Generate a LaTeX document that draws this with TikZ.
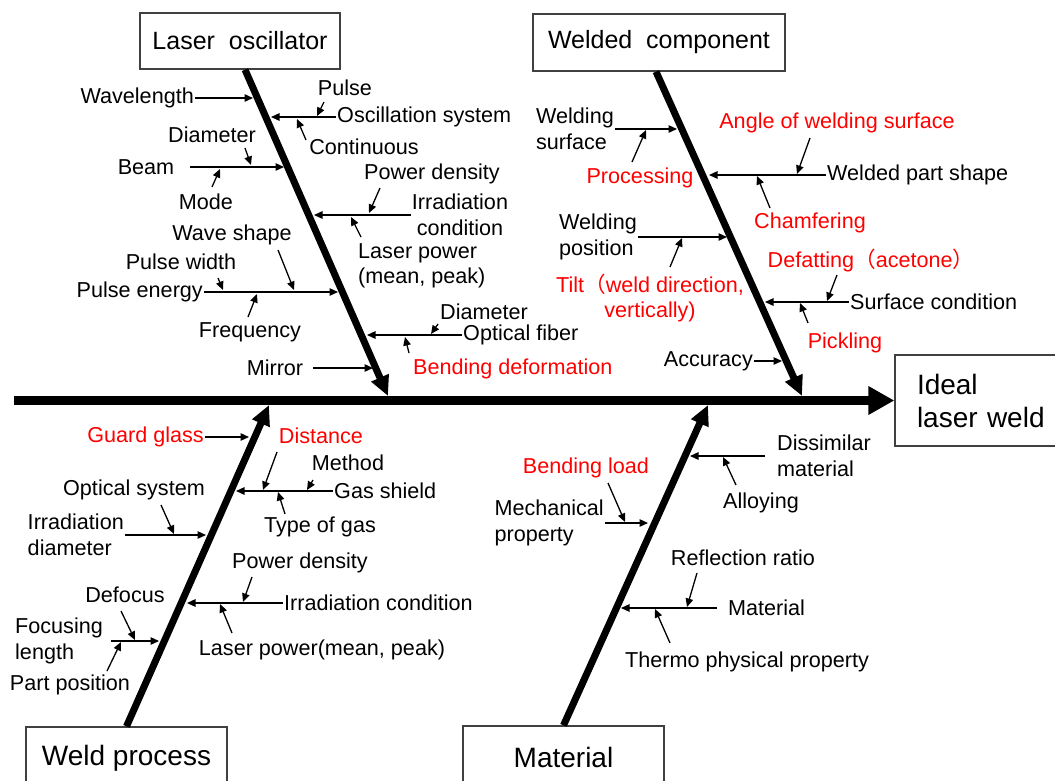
\documentclass[tikz,border=0pt]{standalone}
\usepackage{fontspec}
\setmainfont{Liberation Sans}
\newfontfamily\cjk{Noto Sans CJK SC}
\usetikzlibrary{arrows.meta}

\begin{document}
\begin{tikzpicture}[
    x=1pt, y=-1pt,
    lbl/.style={
        inner sep=1pt,
        font=\fontsize{21.6}{25.5}\selectfont
    },
    hot/.style={lbl, text=hired},
    cause/.style={
        rectangle,
        draw=boxgray,
        line width=1.3pt,
        inner sep=0pt,
        font=\fontsize{25}{29}\selectfont
    },
    spine/.style={line width=9pt, -{Triangle[length=26pt, width=27pt]}},
    bone/.style={line width=7pt, -{Triangle[length=20pt, width=18pt]}},
    sub/.style={line width=1.3pt, -{Triangle[length=8.5pt, width=7.5pt]}}
]

% Colors
\definecolor{hired}{RGB}{255,0,0}
\definecolor{boxgray}{RGB}{64,64,64}

\useasboundingbox (0,0) rectangle (1055,780);

% Effect and causes
\node[cause, minimum width=176pt, minimum height=91pt, text width=132pt,
      align=left, font=\fontsize{28}{33}\selectfont] (goal) at (983,400.5) {Ideal\\laser weld};
\node[cause, minimum width=200pt, minimum height=56pt] (lo) at (240,41) {Laser\ \ oscillator};
\node[cause, minimum width=252pt, minimum height=57pt] (wc) at (659,42.5) {Welded\ \ component};
\node[cause, minimum width=201pt, minimum height=62pt,
      font=\fontsize{28}{33}\selectfont] (wp) at (126.5,758) {Weld process};
\node[cause, minimum width=201pt, minimum height=62pt,
      font=\fontsize{28}{33}\selectfont] (mat) at (563.5,757) {Material};

% Spine and bones
\coordinate (tail) at (14,400.5);
\coordinate (lo-tip) at (388,396);
\coordinate (wc-tip) at (802,396);
\coordinate (wp-tip) at (269,405);
\coordinate (mat-tip) at (708,405);

\draw[spine] (tail) -- (goal.west);
\draw[bone] ([xshift=5pt]lo.south) -- (lo-tip);
\draw[bone] ([xshift=-3pt]wc.south) -- (wc-tip);
\draw[bone] (wp.north) -- (wp-tip);
\draw[bone] (mat.north) -- (mat-tip);

% Laser oscillator
\node[lbl, anchor=east] (wl) at (195,98) {Wavelength};
\node[lbl, anchor=west] (osc) at (336,117) {Oscillation system};
\node[lbl] (pulse) at (345,88) {Pulse};
\node[lbl] (cont) at (364,147) {Continuous};
\node[lbl] (beam) at (146,167) {Beam};
\node[lbl] (dia1) at (212,135) {Diameter};
\node[lbl] (mode) at (206,202) {Mode};
\node[lbl, align=center] (irr1) at (460,215) {Irradiation\\condition};
\node[lbl] (pd1) at (432,174) {Power density};
\node[lbl, align=left, anchor=west] (lp1) at (357,266) {Laser power\\(mean, peak)};
\node[lbl, anchor=east] (pe) at (204,292) {Pulse energy};
\node[lbl] (pw) at (181,262) {Pulse width};
\node[lbl] (wave) at (232,235) {Wave shape};
\node[lbl] (freq) at (250,332) {Frequency};
\node[lbl, anchor=west] (fiber) at (462,335) {Optical fiber};
\node[lbl] (dia2) at (484,312) {Diameter};
\node[hot, anchor=west] (bend) at (412,369) {Bending deformation};
\node[lbl] (mirror) at (275,368) {Mirror};

\coordinate (lo1) at (253,98);
\coordinate (lo2) at (271,117);
\coordinate (lo3) at (284,167);
\coordinate (lo4) at (314,215);
\coordinate (lo5) at (338,292);
\coordinate (lo6) at (367,335);
\coordinate (lo7) at (373,368);

\coordinate (pulse-t) at (324,102);  \coordinate (pulse-h) at (317,116);
\coordinate (cont-t) at (306,140);   \coordinate (cont-h) at (297,119);
\coordinate (dia1-t) at (245,148);   \coordinate (dia1-h) at (251,165);
\coordinate (mode-t) at (212,187);   \coordinate (mode-h) at (220,169);
\coordinate (pd1-t) at (380,188);    \coordinate (pd1-h) at (369,213);
\coordinate (lp1-t) at (361,237);    \coordinate (lp1-h) at (351,217);
\coordinate (pw-t) at (218,278);     \coordinate (pw-h) at (223,290);
\coordinate (wave-t) at (278,250);   \coordinate (wave-h) at (294,290);
\coordinate (freq-t) at (248,317);   \coordinate (freq-h) at (257,294);
\coordinate (dia2-t) at (438,324);   \coordinate (dia2-h) at (431,334);
\coordinate (bend-t) at (409,353);   \coordinate (bend-h) at (405,337);

% Welded component
\node[lbl, align=left, anchor=east] (wsurf) at (615,129) {Welding\\surface};
\node[hot] (proc) at (640,178) {Processing};
\node[lbl, anchor=west] (wps) at (826,175) {Welded part shape};
\node[hot] (angle) at (837,123) {Angle of welding surface};
\node[hot] (cham) at (810,223) {Chamfering};
\node[lbl, align=left, anchor=east] (wpos) at (638,237) {Welding\\position};
\node[hot, align=center] (tilt) at (650,298) {Tilt{\cjk （}weld direction,\\vertically)};
\node[lbl, anchor=west] (surf) at (849,302) {Surface condition};
\node[hot] (defat) at (871,260) {Defatting{\cjk （}acetone{\cjk ）}};
\node[hot] (pick) at (845,343) {Pickling};
\node[lbl, anchor=east] (acc) at (754,361) {Accuracy};

\coordinate (wc1) at (677,129);
\coordinate (wc2) at (709,175);
\coordinate (wc3) at (727,237);
\coordinate (wc4) at (765,302);
\coordinate (wc5) at (782,361);

\coordinate (proc-t) at (632,162);   \coordinate (proc-h) at (646,130);
\coordinate (angle-t) at (810,138);  \coordinate (angle-h) at (797,174);
\coordinate (cham-t) at (770,208);   \coordinate (cham-h) at (757,176);
\coordinate (tilt-t) at (670,267);   \coordinate (tilt-h) at (682,238);
\coordinate (defat-t) at (837,275);  \coordinate (defat-h) at (827,301);
\coordinate (pick-t) at (808,323);   \coordinate (pick-h) at (800,303);

% Weld process
\node[hot, anchor=east] (guard) at (205,437) {Guard glass};
\node[lbl, anchor=west] (gas) at (333,491) {Gas shield};
\node[hot] (dist) at (321,436) {Distance};
\node[lbl] (meth) at (348,463) {Method};
\node[lbl] (tgas) at (320,527) {Type of gas};
\node[lbl, align=left, anchor=east] (ird) at (125,535) {Irradiation\\diameter};
\node[lbl] (optsys) at (134,490) {Optical system};
\node[lbl, anchor=west] (irr2) at (283,603) {Irradiation condition};
\node[lbl] (pd2) at (300,563) {Power density};
\node[lbl] (lp2) at (322,650) {Laser power(mean, peak)};
\node[lbl, align=left, anchor=west] (focus) at (14,641) {Focusing\\length};
\node[lbl] (defoc) at (125,595) {Defocus};
\node[lbl] (part) at (70,685) {Part position};

\coordinate (wp1) at (249,437);
\coordinate (wp2) at (236,491);
\coordinate (wp3) at (206,535);
\coordinate (wp4) at (187,603);
\coordinate (wp5) at (159,641);

\coordinate (dist-t) at (277,452);   \coordinate (dist-h) at (263,490);
\coordinate (meth-t) at (313,480);   \coordinate (meth-h) at (307,490);
\coordinate (tgas-t) at (285,514);   \coordinate (tgas-h) at (278,492);
\coordinate (optsys-t) at (161,505); \coordinate (optsys-h) at (174,534);
\coordinate (pd2-t) at (252,577);    \coordinate (pd2-h) at (243,602);
\coordinate (lp2-t) at (232,633);    \coordinate (lp2-h) at (220,604);
\coordinate (defoc-t) at (121,611);  \coordinate (defoc-h) at (135,640);
\coordinate (part-t) at (107,671);   \coordinate (part-h) at (121,642);

% Material
\node[lbl, align=left, anchor=west] (dissim) at (776,456) {Dissimilar\\material};
\node[lbl] (alloy) at (761,503) {Alloying};
\node[lbl, align=left, anchor=east] (mech) at (605,523) {Mechanical\\property};
\node[hot] (bload) at (586,468) {Bending load};
\node[lbl, anchor=west] (matl) at (727,608) {Material};
\node[lbl] (refl) at (743,558) {Reflection ratio};
\node[lbl] (thermo) at (747,662) {Thermo physical property};

\coordinate (mt1) at (690,456);
\coordinate (mt2) at (648,523);
\coordinate (mt3) at (621,608);

\coordinate (alloy-t) at (736,485);  \coordinate (alloy-h) at (723,457);
\coordinate (bload-t) at (608,483);  \coordinate (bload-h) at (625,522);
\coordinate (refl-t) at (697,573);   \coordinate (refl-h) at (687,607);
\coordinate (thermo-t) at (670,643); \coordinate (thermo-h) at (655,609);

% Arrows
\draw[sub] (wl.east) -- (lo1);
\draw[sub] (osc.west) -- (lo2);
\draw[sub, shorten <=15pt] (beam.east) -- (lo3);
\draw[sub] (irr1.west) -- (lo4);
\draw[sub] (pe.east) -- (lo5);
\draw[sub] (fiber.west) -- (lo6);
\draw[sub, shorten <=9pt] (mirror.east) -- (lo7);

\draw[sub] (wsurf.east) -- (wc1);
\draw[sub] (wps.west) -- (wc2);
\draw[sub] (wpos.east) -- (wc3);
\draw[sub] (surf.west) -- (wc4);
\draw[sub] (acc.east) -- (wc5);

\draw[sub] (guard.east) -- (wp1);
\draw[sub] (gas.west) -- (wp2);
\draw[sub] (ird.east) -- (wp3);
\draw[sub] (irr2.west) -- (wp4);
\draw[sub, shorten <=7pt] (focus.east) -- (wp5);

\draw[sub, shorten <=11pt] (dissim.west) -- (mt1);
\draw[sub] (mech.east) -- (mt2);
\draw[sub, shorten <=10pt] (matl.west) -- (mt3);

\foreach \n in {pulse, cont, dia1, mode, pd1, lp1, pw, wave, freq, dia2, bend,
                proc, angle, cham, tilt, defat, pick,
                dist, meth, tgas, optsys, pd2, lp2, defoc, part,
                alloy, bload, refl, thermo}
    \draw[sub] (\n-t) -- (\n-h);

\end{tikzpicture}
\end{document}
